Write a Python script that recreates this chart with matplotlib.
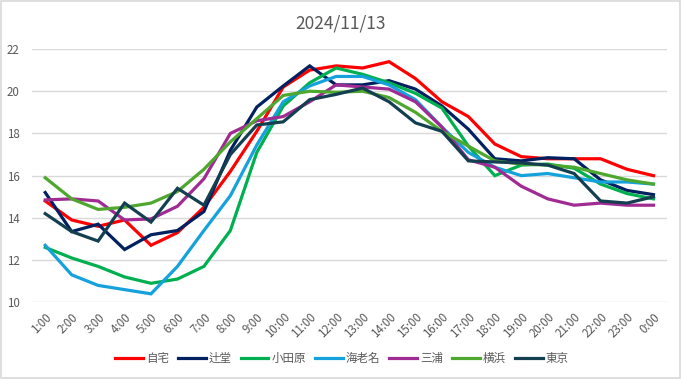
import matplotlib
matplotlib.use('Agg')
import matplotlib.pyplot as plt
from matplotlib.patches import Rectangle

plt.rcParams['font.family'] = ['Noto Sans CJK JP', 'DejaVu Sans']

# ---- data ----
hours = ['1:00', '2:00', '3:00', '4:00', '5:00', '6:00', '7:00', '8:00',
         '9:00', '10:00', '11:00', '12:00', '13:00', '14:00', '15:00', '16:00',
         '17:00', '18:00', '19:00', '20:00', '21:00', '22:00', '23:00', '0:00']

jitaku = [14.8, 13.9, 13.6, 13.9, 12.7, 13.3, 14.5, 16.2, 18.1, 20.2, 21.0, 21.2,
          21.1, 21.4, 20.6, 19.5, 18.8, 17.5, 16.9, 16.8, 16.8, 16.8, 16.3, 16.0]
tsujido = [15.2, 13.35, 13.7, 12.5, 13.2, 13.4, 14.3, 17.2, 19.25, 20.25, 21.2, 20.3,
           20.3, 20.5, 20.1, 19.3, 18.2, 16.8, 16.7, 16.85, 16.8, 15.8, 15.3, 15.1]
odawara = [12.6, 12.1, 11.7, 11.2, 10.9, 11.1, 11.7, 13.4, 17.1, 19.3, 20.4, 21.1,
           20.8, 20.4, 19.9, 19.2, 17.4, 16.0, 16.5, 16.55, 16.35, 15.6, 15.15, 14.9]
ebina = [12.7, 11.3, 10.8, 10.6, 10.4, 11.7, 13.4, 15.05, 17.45, 19.5, 20.25, 20.7,
         20.7, 20.3, 19.6, 18.3, 17.1, 16.4, 16.0, 16.1, 15.9, 15.7, 15.7, 15.6]
miura = [14.85, 14.9, 14.8, 13.9, 13.95, 14.55, 15.85, 18.0, 18.6, 18.8, 19.5, 20.3,
         20.2, 20.1, 19.5, 18.3, 16.75, 16.4, 15.5, 14.9, 14.6, 14.7, 14.6, 14.6]
yokohama = [15.9, 14.9, 14.4, 14.5, 14.7, 15.25, 16.3, 17.6, 18.7, 19.8, 20.0, 19.95,
            20.0, 19.7, 19.0, 18.1, 17.4, 16.7, 16.55, 16.5, 16.4, 16.1, 15.8, 15.6]
tokyo = [14.2, 13.35, 12.9, 14.7, 13.8, 15.4, 14.6, 17.0, 18.4, 18.55, 19.6, 19.85,
         20.15, 19.5, 18.5, 18.1, 16.7, 16.65, 16.6, 16.5, 16.1, 14.8, 14.7, 15.0]

series = [
    ('自宅', jitaku, '#FF0000'),
    ('辻堂', tsujido, '#002060'),
    ('小田原', odawara, '#00B050'),
    ('海老名', ebina, '#15A1DB'),
    ('三浦', miura, '#A02B93'),
    ('横浜', yokohama, '#4EA72E'),
    ('東京', tokyo, '#143F50'),
]

fig = plt.figure(figsize=(6.81, 3.79), dpi=100)
ax = fig.add_axes([0.047, 0.2024, 0.932, 0.6683])

x = list(range(len(hours)))
for name, vals, col in series:
    ax.plot(x, vals, color=col, lw=2.3, label=name, solid_joinstyle='miter')

ax.set_xlim(-0.5, len(hours) - 0.5)
ax.set_ylim(10, 22)
ax.set_yticks(range(10, 23, 2))
ax.set_xticks(x)
ax.set_xticklabels(hours, rotation=45, ha='right', rotation_mode='anchor')
ax.tick_params(axis='both', length=0, colors='#595959', labelsize=8.3)
ax.tick_params(axis='x', pad=6)
ax.tick_params(axis='y', pad=9)

ax.grid(axis='y', color='#D9D9D9', lw=1.0)
ax.set_axisbelow(True)
for s in ax.spines.values():
    s.set_visible(False)

fig.text(0.5, 0.937, '2024/11/13', ha='center', va='center',
         fontsize=12.5, color='#595959')

fig.legend(loc='center', bbox_to_anchor=(0.502, 0.055), ncol=7, frameon=False,
           fontsize=8.3, handlelength=2.4, handletextpad=0.25, columnspacing=0.8,
           labelcolor='#595959')

fig.patches.append(Rectangle((0.002, 0.003), 0.996, 0.994, transform=fig.transFigure,
                             fill=False, edgecolor='#D9D9D9', lw=1.2))

fig.savefig('out.png', dpi=100, facecolor='white')
